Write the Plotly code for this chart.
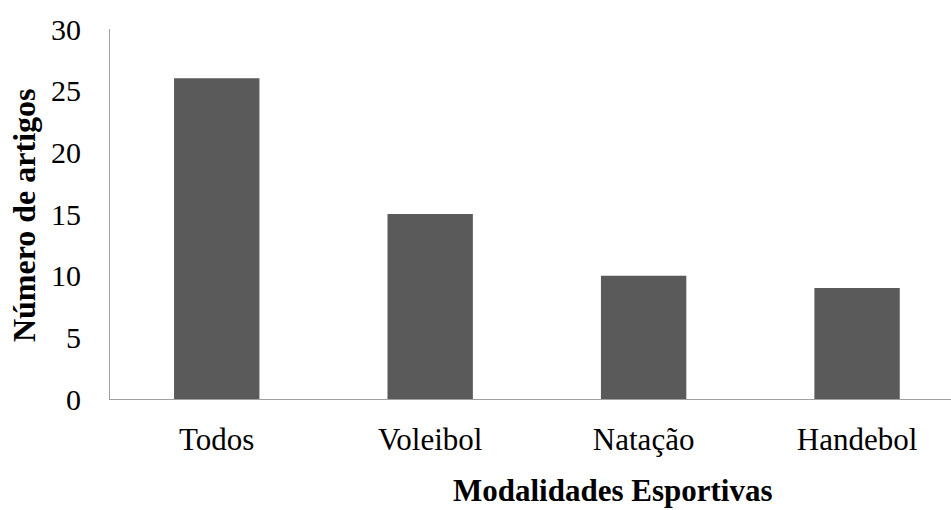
import plotly.graph_objects as go

# ── Data ─────────────────────────────────────────────────────────────────────
categorias = ["Todos", "Voleibol", "Natação", "Handebol"]
num_artigos = [26, 15, 10, 9]
y_ticks = [0, 5, 10, 15, 20, 25, 30]

SERIF = "Liberation Serif, Times New Roman, serif"

fig = go.Figure(
    go.Bar(
        x=categorias,
        y=num_artigos,
        width=0.4,
        marker=dict(color="#5a5a5a", line=dict(width=0)),
    )
)

fig.update_layout(
    width=951,
    height=510,
    margin=dict(l=110, r=0, t=29, b=111),
    plot_bgcolor="white",
    paper_bgcolor="white",
    showlegend=False,
    font=dict(family=SERIF, color="black"),
)

fig.update_xaxes(
    range=[-0.5, 3.44],
    automargin=False,
    showline=True,
    linecolor="#a0a0a0",
    linewidth=1,
    ticks="",
    showgrid=False,
    tickfont=dict(size=31, family=SERIF),
    ticklabelstandoff=13,
)

fig.update_yaxes(
    range=[0, 30],
    tickvals=y_ticks,
    automargin=False,
    showline=True,
    linecolor="#a0a0a0",
    linewidth=1,
    ticks="",
    showgrid=False,
    zeroline=False,
    tickfont=dict(size=30, family=SERIF),
    ticklabelstandoff=22,
)

# axis titles placed as annotations for exact positioning
fig.add_annotation(
    text="<b>Modalidades Esportivas</b>",
    xref="paper", yref="paper", x=0.598, y=-0.246,
    xanchor="center", yanchor="middle", showarrow=False,
    font=dict(size=31, family=SERIF, color="black"),
)
fig.add_annotation(
    text="<b>Número de artigos</b>",
    xref="paper", yref="paper", x=-0.1023, y=0.497,
    xanchor="center", yanchor="middle", showarrow=False, textangle=-90,
    font=dict(size=32, family=SERIF, color="black"),
)

fig.write_html(
    "out.html",
    config={"displayModeBar": False},
    post_script="document.body.style.margin='0';",
)
